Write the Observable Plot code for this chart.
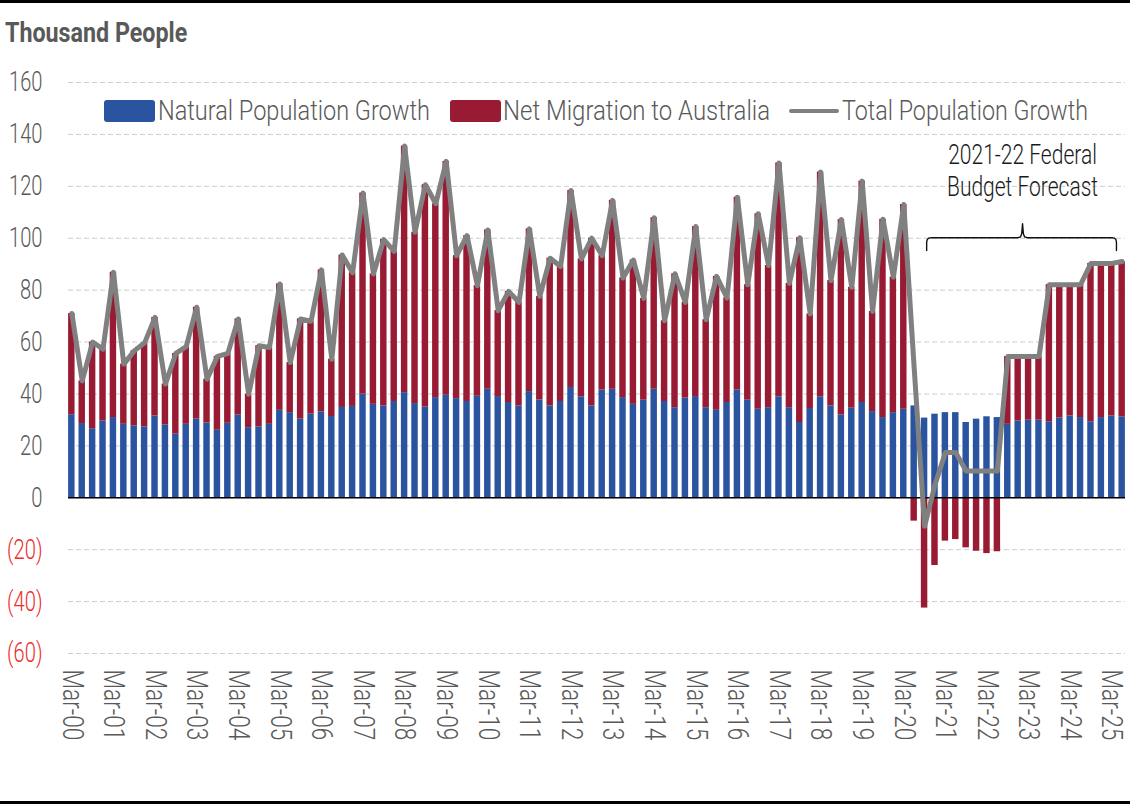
<!DOCTYPE html>
<html><head><meta charset="utf-8">
<script src="https://cdn.jsdelivr.net/npm/d3@7"></script>
<script src="https://cdn.jsdelivr.net/npm/@observablehq/plot@0.6"></script>
<style>
html,body{margin:0;padding:0;background:#fff;}
#wrap{position:relative;width:1130px;height:804px;box-sizing:border-box;border-top:3px solid #000;border-bottom:3px solid #000;overflow:hidden;
  font-family:Roboto,"Liberation Sans",sans-serif;font-weight:300;}
#title{position:absolute;left:5px;top:16px;line-height:28px;font-size:28px;font-weight:bold;color:#595959;white-space:nowrap;transform-origin:0 50%;}
#chart{position:absolute;left:0;top:47px;}
.lg{position:absolute;white-space:nowrap;font-size:28px;line-height:28px;color:#595959;transform-origin:0 50%;}
.sw{position:absolute;width:51px;height:22px;border-radius:3px;}
.ln{position:absolute;width:50px;height:4px;border-radius:2px;background:#808080;}
</style></head>
<body>
<div id="wrap">
  <div id="title">Thousand People</div>
  <div id="chart"></div>
  <div id="legend"></div>
</div>
<script>
const FONT = 'Roboto,"Liberation Sans",sans-serif';
const BLUE = "#2a54a0", RED = "#991b33", GRAY = "#808080";
const seriesNames = ["Natural Population Growth", "Net Migration to Australia"];
const lineName = "Total Population Growth";

// Quarter categories Mar-00 ... Jun-25
const months = ["Mar", "Jun", "Sep", "Dec"];
const quarters = [];
for (let y = 0; y <= 25; y++) for (const m of months) quarters.push(`${m}-${String(y).padStart(2, "0")}`);
quarters.length = 102;

// Thousand people per quarter
const natural = [
  32,28.6,26.6,29.6, 30.9,28.3,27.7,27.3, 31.5,28.1,24.5,28.3, 30.3,28.8,26,28.7,
  31.9,27,27.3,28.3, 33.7,32.8,30.3,32.2, 33.1,31.3,34.8,35.2, 39.9,36,35.4,37.1,
  40.5,36.3,35,38.6, 39.5,38.2,37.1,39.1, 41.8,39,36.7,35.4, 40.9,37.7,35.4,37.1,
  42.5,38.9,35.4,41.5, 41.8,38.6,36,37.6, 41.8,37.1,34.7,38.4, 39,34.7,33.7,36.7,
  41.5,37.6,34.1,34.7, 38.9,34.7,29,34.4, 38.9,35.4,31.9,34.5, 36.7,33.2,30.9,32.8,
  34.1,35.4,30.7,32.2, 32.8,32.8,29,30.3, 31.2,30.9,28.3,29.6, 29.9,29.9,29.3,30.7,
  31.5,30.9,29.3,30.9, 31.5,31.2
];
const migration = [
  39,16.4,33.4,27.7, 56,23.2,28.9,32.4, 38,15.7,31.1,29.9, 43.1,16.9,28.5,26.9,
  37,12.9,31.3,29.6, 48.7,19.3,38.6,35.8, 54.7,22.1,58.7,51.5, 77.5,50.2,64.1,57.8,
  95,66,85.6,74.7, 90.1,55.1,63.9,42.6, 61.4,33.1,42.8,39.9, 62.7,39.9,56.9,52,
  75.9,53.1,64.6,51.8, 72.8,46.1,55.6,39.2, 66.1,31.1,51.6,36.9, 65.5,33.9,51.6,40.3,
  74.3,44.5,75.3,54.8, 90.1,47.9,71.2,36.4, 86.6,48.3,75.3,46.6, 85.3,38.6,76.4,52.2,
  78.9,-9,-42.5,-26.1, -16.7,-16.1,-19.3,-20.6, -21.5,-20.8,26.1,24.8, 24.5,24.5,52.8,51.4,
  50.6,51.2,61,59.4, 58.8,59.8
];
const total = [
  71,45,60,57.3, 86.9,51.5,56.6,59.7, 69.5,43.8,55.6,58.2, 73.4,45.7,54.5,55.6,
  68.9,39.9,58.6,57.9, 82.4,52.1,68.9,68, 87.8,53.4,93.5,86.7, 117.4,86.2,99.5,94.9,
  135.5,102.3,120.6,113.3, 129.6,93.3,101,81.7, 103.2,72.1,79.5,75.3, 103.6,77.6,92.3,89.1,
  118.4,92,100,93.3, 114.6,84.7,91.6,76.8, 107.9,68.2,86.3,75.3, 104.5,68.6,85.3,77,
  115.8,82.1,109.4,89.5, 129,82.6,100.2,70.8, 125.5,83.7,107.2,81.1, 122,71.8,107.3,85,
  113,50,-11,5, 17.4,17.4,10.3,10.3, 10.3,10.3,54.4,54.4, 54.4,54.4,82.1,82.1,
  82.1,82.1,90.3,90.3, 90.3,91
];

const posTicks = [0, 20, 40, 60, 80, 100, 120, 140, 160];
const negTicks = [-20, -40, -60];
const xTickIdx = quarters.map((q, i) => i).filter(i => quarters[i].startsWith("Mar"));

// Forecast annotation (quarter index span and value level)
const forecast = {from: 82.2, to: 100.45, mid: 91.42, level: 100.2, drop: 4.9, rise: 5.4};
const forecastLines = ["2021-22 Federal", "Budget Forecast"];
const forecastLineY = [132.2, 119.9];

const rows = [];
quarters.forEach((q, i) => {
  rows.push({i, q, series: seriesNames[0], value: natural[i]});
  rows.push({i, q, series: seriesNames[1], value: migration[i]});
});
const lineRows = quarters.map((q, i) => ({i, q, total: total[i]}));
const labelRows = forecastLines.map((text, k) => ({text, x: forecast.mid, y: forecastLineY[k]}));

const f = forecast, L = f.level;
const brace = [
  [f.from, L - f.drop], [f.from, L - 1.6], [f.from + 0.06, L - 0.7], [f.from + 0.2, L - 0.15], [f.from + 0.45, L],
  [f.mid - 0.45, L], [f.mid - 0.2, L + 0.3], [f.mid - 0.08, L + 1.5], [f.mid, L + f.rise],
  [f.mid + 0.08, L + 1.5], [f.mid + 0.2, L + 0.3], [f.mid + 0.45, L],
  [f.to - 0.45, L], [f.to - 0.2, L - 0.15], [f.to - 0.06, L - 0.7], [f.to, L - 1.6], [f.to, L - f.drop]
].map(([x, y]) => ({x, y}));

const chart = Plot.plot({
  width: 1130, height: 703,
  marginLeft: 68, marginRight: 5, marginTop: 32, marginBottom: 100,
  style: {fontFamily: FONT, fontWeight: 300, background: "transparent", overflow: "visible"},
  x: {domain: [-0.32, 101.32], axis: null},
  y: {domain: [-60, 160], axis: null},
  color: {domain: seriesNames, range: [BLUE, RED]},
  marks: [
    Plot.gridY(posTicks.concat(negTicks), {stroke: "#cdcdcd", strokeOpacity: 1, strokeDasharray: "5,3", strokeWidth: 1}),
    Plot.rectY(rows, Plot.stackY({x1: d => d.i - 0.31, x2: d => d.i + 0.31, y: "value", fill: "series"})),
    Plot.ruleY([0], {stroke: "#000", strokeWidth: 1.5}),
    Plot.line(lineRows, {x: "i", y: "total", stroke: GRAY, strokeWidth: 5, strokeLinejoin: "round", strokeLinecap: "round"}),
    Plot.line(brace, {x: "x", y: "y", stroke: "#111", strokeWidth: 1.4}),
    Plot.text(labelRows, {x: "x", y: "y", text: "text", fontSize: 28, lineAnchor: "middle", fill: "#1a1a1a"}),
    Plot.axisX(xTickIdx, {tickFormat: i => quarters[i], tickRotate: 90, tickSize: 0, tickPadding: 16, fontSize: 29, color: "#595959"}),
    Plot.axisY(posTicks, {tickSize: 0, tickPadding: 26, fontSize: 28, color: "#595959"}),
    Plot.axisY(negTicks, {tickFormat: d => `(${-d})`, tickSize: 0, tickPadding: 26, fontSize: 28, color: "#ee2b2b"})
  ]
});
document.getElementById("chart").appendChild(chart);

// Condense SVG text horizontally to mimic the narrow typeface of the original
function condense(el, factor) {
  const len = el.getComputedTextLength();
  if (len > 0) {
    el.setAttribute("textLength", (len * factor).toFixed(1));
    el.setAttribute("lengthAdjust", "spacingAndGlyphs");
  }
}
chart.querySelectorAll("text").forEach(t => {
  const label = (t.closest("g[aria-label]") || t).getAttribute("aria-label") || "";
  const factor = label.startsWith("x-axis") ? 0.78 : label.startsWith("y-axis") ? 0.72 : 0.75;
  const spans = t.querySelectorAll("tspan");
  if (spans.length) spans.forEach(s => condense(s, factor)); else condense(t, factor);
});

// Legend (overlaid inside plot area, page y ~100-122)
const legend = document.getElementById("legend");
const items = [
  {type: "sw", color: BLUE, left: 104, label: seriesNames[0], tl: 158, w: 272},
  {type: "sw", color: RED, left: 450, label: seriesNames[1], tl: 503, w: 267},
  {type: "ln", color: GRAY, left: 789, label: lineName, tl: 842, w: 246}
];
for (const it of items) {
  const s = document.createElement("div");
  s.className = it.type;
  s.style.left = it.left + "px";
  s.style.top = (it.type === "sw" ? 97 : 106) + "px";
  s.style.background = it.color;
  legend.appendChild(s);
  const t = document.createElement("div");
  t.className = "lg";
  t.style.left = it.tl + "px";
  t.style.top = "94px";
  t.textContent = it.label;
  legend.appendChild(t);
  t.style.transform = `scaleX(${it.w / t.offsetWidth})`;
}
const title = document.getElementById("title");
title.style.transform = `scaleX(${182 / title.offsetWidth})`;
</script>
</body></html>
